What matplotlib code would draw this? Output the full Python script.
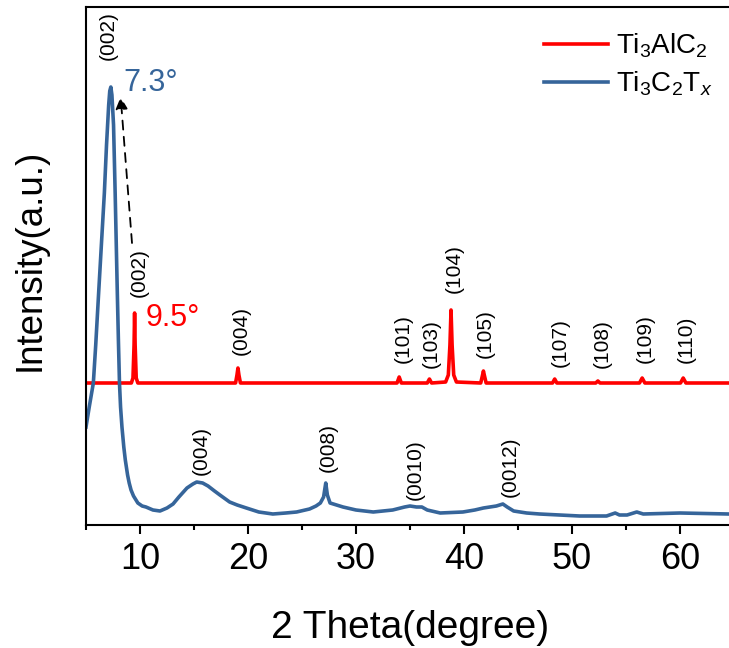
import matplotlib
matplotlib.use("Agg")
import matplotlib.pyplot as plt
from matplotlib.ticker import MultipleLocator

plt.rcParams['font.family'] = ['Liberation Sans', 'DejaVu Sans']
plt.rcParams['mathtext.fontset'] = 'custom'
plt.rcParams['mathtext.rm'] = 'Liberation Sans'
plt.rcParams['mathtext.it'] = 'Liberation Sans:italic'

# ---- data (2theta in degrees, intensity in arbitrary units) ----
red_x = [5.0, 9.2, 9.35, 9.45, 9.5, 9.55, 9.65, 9.8, 18.85, 18.98, 19.07, 19.16, 19.3,
         33.8, 34.0, 34.2, 36.6, 36.8, 37.0, 38.3, 38.55, 38.7, 38.8, 38.9, 39.05, 39.3,
         41.55, 41.72, 41.8, 41.88, 42.05, 48.2, 48.4, 48.6, 52.2, 52.4, 52.6,
         56.25, 56.5, 56.75, 60.05, 60.3, 60.55, 64.5]
red_y = [142, 142, 147, 180, 212, 180, 147, 142, 142, 150, 157, 150, 142,
         142, 148, 142, 142, 146, 142, 143, 150, 180, 215, 180, 150, 143,
         142, 150, 154, 150, 142, 142, 146, 142, 142, 144, 142,
         142, 147, 142, 142, 147, 142, 142]

blue_x = [5.0, 5.3, 5.68, 5.9, 6.17, 6.45, 6.7, 6.9, 7.1, 7.2, 7.3, 7.4, 7.55, 7.7,
          7.9, 8.0, 8.1, 8.2, 8.33, 8.5, 8.64, 8.85, 9.0, 9.17, 9.4, 9.8, 10.2, 10.55,
          11.2, 11.85, 12.5, 13.06, 13.6, 14.35, 14.9, 15.25, 15.8, 16.3, 16.9, 17.4,
          18.3, 19.0, 19.85, 21.0, 22.3, 23.5, 24.5, 25.7, 26.3, 26.7, 27.0, 27.2,
          27.35, 27.6, 28.2, 28.8, 30.0, 31.6, 33.4, 34.5, 35.0, 35.6, 36.1, 36.6,
          37.8, 39.9, 41.0, 41.8, 43.0, 43.6, 44.0, 44.6, 45.8, 47.0, 50.7, 53.2,
          54.0, 54.4, 55.1, 56.0, 56.6, 60.0, 64.5]
blue_y = [98, 118, 142, 180, 232, 285, 332, 380, 420, 434, 438, 430, 400, 332,
          232, 185, 142, 118, 98, 78, 65, 50, 42, 35, 29, 22, 19, 18,
          15, 14, 17, 21, 28, 37, 41, 43, 42, 39, 34, 30,
          23, 20, 17, 13, 11, 12, 13, 16, 19, 22, 28, 42,
          30, 22, 20, 18, 15, 13, 15, 18, 19, 18, 18, 15,
          12, 13, 15, 17, 19, 21, 18, 14, 12, 11, 9, 9,
          12, 10, 10, 13, 11, 12, 11]

red_labels = ['(002)', '(004)', '(101)', '(103)', '(104)', '(105)', '(107)', '(108)', '(109)', '(110)']
red_label_x = [9.9, 19.4, 34.35, 36.95, 39.1, 42.0, 48.9, 52.8, 56.75, 60.55]
red_label_y = [228, 170, 162, 157, 232, 167, 158, 157, 162, 162]

blue_labels = ['(002)', '(004)', '(008)', '(0010)', '(0012)']
blue_label_x = [7.04, 15.7, 27.4, 35.5, 44.3]
blue_label_y = [465, 50, 53, 25, 28]

red_c = '#ff0000'
blue_c = '#36659a'

fig = plt.figure(figsize=(7.29, 6.48), dpi=100)
ax = fig.add_axes([86/729, 1-525/648, 643/729, (525-7)/648])

ax.plot(red_x, red_y, color=red_c, lw=2.6, label=r'Ti$_3$AlC$_2$', solid_joinstyle='round')
ax.plot(blue_x, blue_y, color=blue_c, lw=2.6, label=r'Ti$_3$C$_2$T$_x$', solid_joinstyle='round')

ax.set_xlim(5, 64.54)
ax.set_ylim(0, 518)
ax.xaxis.set_major_locator(MultipleLocator(10))
ax.xaxis.set_minor_locator(MultipleLocator(5))
ax.set_yticks([])
ax.tick_params(axis='x', which='major', direction='out', length=6.5, width=1.5, labelsize=26, pad=6)
ax.tick_params(axis='x', which='minor', direction='out', length=3.5, width=1.5)
ax.spines['right'].set_visible(False)
for s in ['left', 'bottom', 'top']:
    ax.spines[s].set_linewidth(1.5)

for t, x, y in zip(red_labels, red_label_x, red_label_y):
    ax.text(x, y, t, rotation=90, ha='center', va='bottom', fontsize=15)
for t, x, y in zip(blue_labels, blue_label_x, blue_label_y):
    ax.text(x, y, t, rotation=90, ha='center', va='bottom', fontsize=15)

ax.text(8.43, 442, '7.3°', color=blue_c, fontsize=22, ha='left', va='center')
ax.text(10.56, 207, '9.5°', color=red_c, fontsize=22, ha='left', va='center')

ax.annotate('', xy=(8.21, 428), xytext=(9.26, 282),
            arrowprops=dict(arrowstyle='-|>', linestyle=(0, (5, 4)), color='black', lw=1.3,
                            mutation_scale=18, shrinkA=0, shrinkB=0))

ax.legend(loc='upper right', bbox_to_anchor=(1.0, 0.985), frameon=False, fontsize=20,
          handlelength=2.3, handletextpad=0.3, labelspacing=0.35, borderaxespad=0.2)

fig.text(30/729, 1-260/648, 'Intensity(a.u.)', rotation=90, ha='center', va='center', fontsize=26.5)
fig.text(410/729, 1-638/648, '2 Theta(degree)', ha='center', va='baseline', fontsize=28)

fig.savefig('out.png', dpi=100)
